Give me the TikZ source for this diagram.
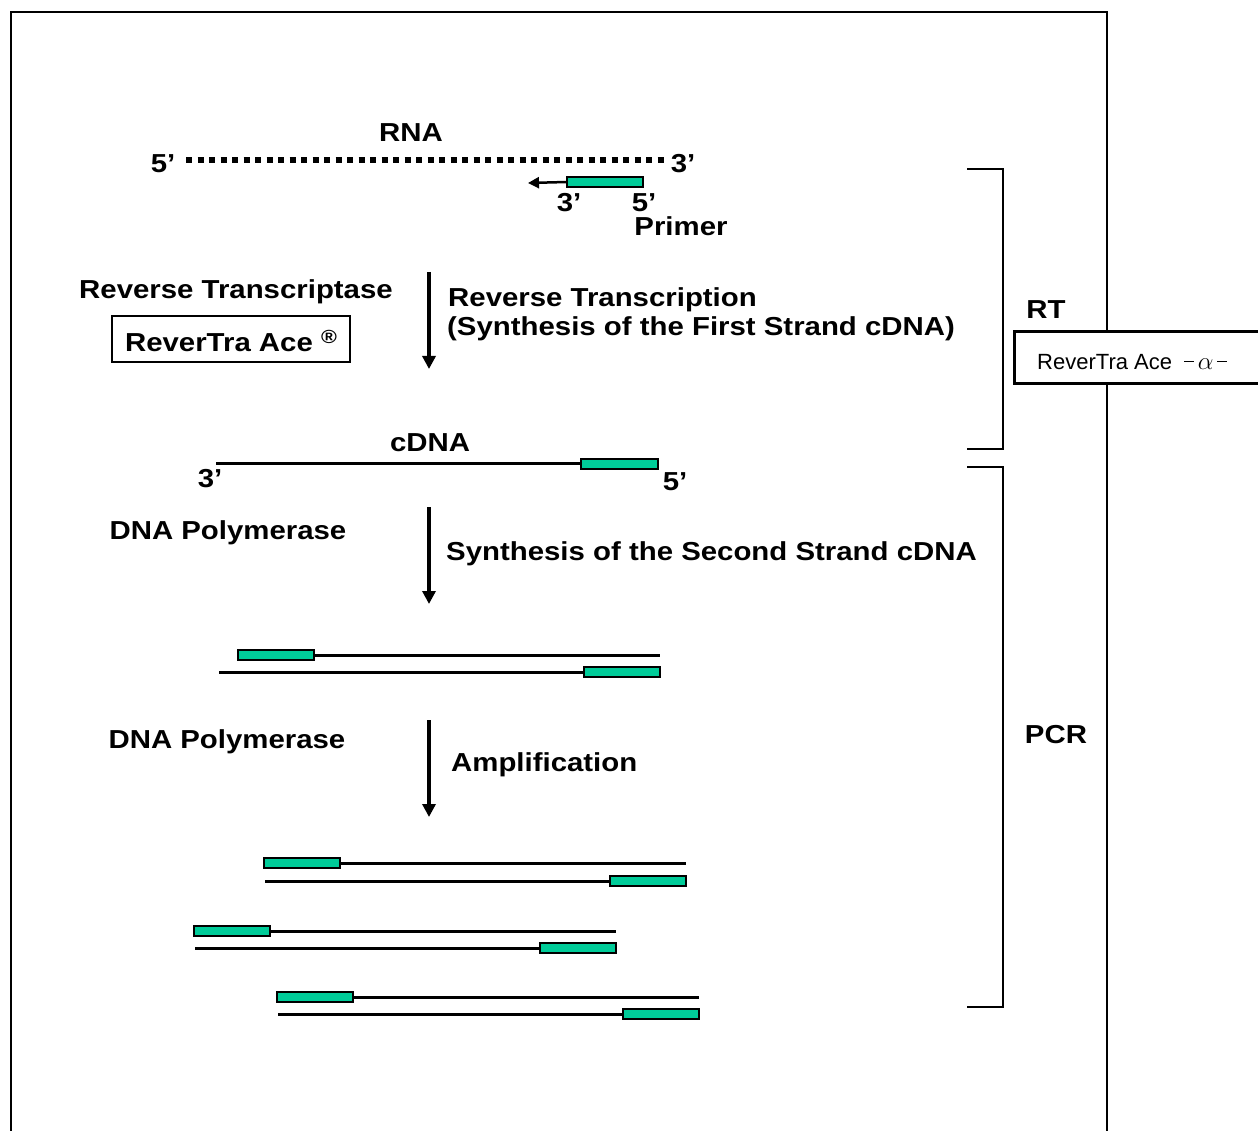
\documentclass[tikz,border=0pt]{standalone}
\usepackage{fontspec}
\setmainfont{Liberation Sans}
\newfontfamily\lab{Liberation Sans}[FakeStretch=1.13]
\usetikzlibrary{arrows.meta}
\definecolor{primergreen}{RGB}{0,204,153}
\tikzset{
  lbl/.style={font=\lab\bfseries\fontsize{26}{29}\selectfont, inner sep=0pt},
  primer/.style={draw, fill=primergreen, line width=2pt, minimum width=76pt, minimum height=9.5pt, inner sep=0pt, outer sep=0pt},
  strand/.style={line width=3pt},
  steparrow/.style={line width=3.5pt, -{Triangle[width=13pt,length=13pt]}},
  bracketline/.style={line width=2.5pt},
}
\newcommand{\mydash}{\rule[0.6ex]{0.45em}{1.3pt}}
\begin{document}
\begin{tikzpicture}[x=1pt,y=-1pt]
\useasboundingbox (0,0) rectangle (1258,1131);
\begin{scope}
\clip (0,0) rectangle (1258,1131);
% outer frame
\draw[line width=2.5pt] (11,1140) -- (11,12) -- (1107,12) -- (1107,1140);
% right box
\node[draw, fill=white, line width=3pt, minimum width=270pt, minimum height=52pt, inner sep=0pt, anchor=north west] (rbox) at (1013,330) {};
\node[anchor=west, inner sep=0pt, font=\fontsize{22}{24}\selectfont] (rtext) at (1037,362) {ReverTra Ace \;\mydash\,{\fontsize{25}{25}\selectfont$\alpha$}\,\mydash};
\end{scope}

% brackets
\draw[bracketline] (967,169) -- (1003,169) -- (1003,449) -- (967,449);
\draw[bracketline] (967,467) -- (1003,467) -- (1003,1007) -- (967,1007);
\node[lbl] (rt) at (1046,310) {RT};
\node[lbl] (pcr) at (1056,735) {PCR};

% RNA
\coordinate (rnaL) at (186,160);
\coordinate (rnaR) at (668,160);
\draw[line width=5.5pt, dash pattern=on 6pt off 5.5pt] (rnaL) -- (rnaR);
\node[lbl] (rna) at (411,133) {RNA};
\node[lbl] (rna5) at (163,164) {5’};
\node[lbl] (rna3) at (683,164) {3’};
\node[primer] (p0) at (604.5,182) {};
\coordinate (p0tip) at (528,183);
\draw[line width=2.5pt, -{Triangle[width=11pt,length=11pt]}] (p0.west) -- (p0tip);
\node[lbl] (p03) at (569,203) {3’};
\node[lbl] (p05) at (644,203) {5’};
\node[lbl] (primerlbl) at (681,226) {Primer};

% step 1
\coordinate (a1s) at (429,272);
\coordinate (a1e) at (429,369);
\draw[steparrow] (a1s) -- (a1e);
\node[lbl] (rtase) at (236,292) {Reverse Transcriptase};
\node[draw, line width=2.5pt, minimum width=238pt, minimum height=46pt, inner sep=0pt] (rta) at (231,339) {};
\node[lbl] (rtatext) at (231,341) {ReverTra Ace \raisebox{0.55ex}{\fontsize{19}{19}\selectfont ®}};
\node[lbl, anchor=west] (s1a) at (448,300) {Reverse Transcription};
\node[lbl, anchor=west] (s1b) at (447,329) {(Synthesis of the First Strand cDNA)};

% cDNA
\node[primer, minimum width=77pt, minimum height=10pt] (c0) at (619,463.5) {};
\coordinate (c0L) at (216,463.5);
\draw[strand] (c0L) -- (c0.west);
\node[lbl] (cdna) at (430,443) {cDNA};
\node[lbl] (c3) at (210,479) {3’};
\node[lbl] (c5) at (675,482) {5’};

% step 2
\coordinate (a2s) at (429,507);
\coordinate (a2e) at (429,604);
\draw[steparrow] (a2s) -- (a2e);
\node[lbl] (pol1) at (228,533) {DNA Polymerase};
\node[lbl, anchor=west] (s2) at (446,554) {Synthesis of the Second Strand cDNA};

% pair 1
\node[primer] (t1) at (276,655) {};
\coordinate (t1R) at (660,655);
\draw[strand] (t1.east) -- (t1R);
\node[primer] (b1) at (622,672) {};
\coordinate (b1L) at (219,672);
\draw[strand] (b1L) -- (b1.west);

% step 3
\coordinate (a3s) at (429,720);
\coordinate (a3e) at (429,817);
\draw[steparrow] (a3s) -- (a3e);
\node[lbl] (pol2) at (227,742) {DNA Polymerase};
\node[lbl, anchor=west] (s3) at (451,765) {Amplification};

% pair 2
\node[primer] (t2) at (301.5,863) {};
\coordinate (t2R) at (686,863);
\draw[strand] (t2.east) -- (t2R);
\node[primer] (b2) at (648,881) {};
\coordinate (b2L) at (265,881);
\draw[strand] (b2L) -- (b2.west);

% pair 3
\node[primer] (t3) at (231.5,931) {};
\coordinate (t3R) at (616,931);
\draw[strand] (t3.east) -- (t3R);
\node[primer] (b3) at (578,948) {};
\coordinate (b3L) at (195,948);
\draw[strand] (b3L) -- (b3.west);

% pair 4
\node[primer] (t4) at (314.5,997) {};
\coordinate (t4R) at (699,997);
\draw[strand] (t4.east) -- (t4R);
\node[primer] (b4) at (660.5,1014) {};
\coordinate (b4L) at (278,1014);
\draw[strand] (b4L) -- (b4.west);
\end{tikzpicture}
\end{document}
